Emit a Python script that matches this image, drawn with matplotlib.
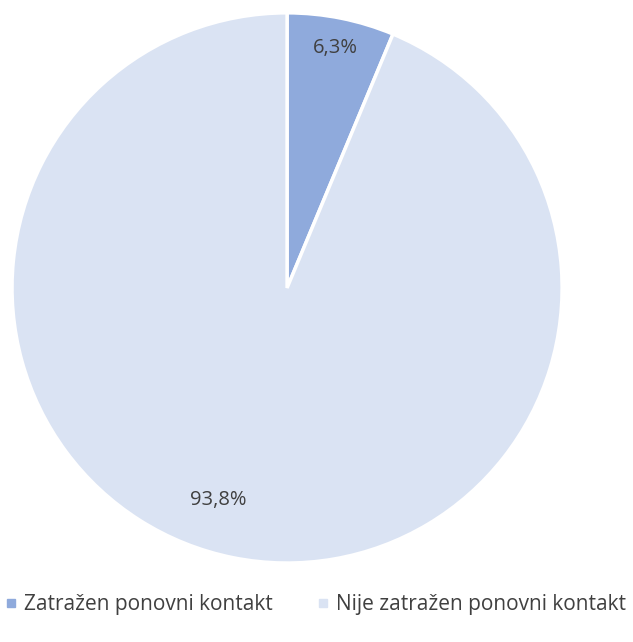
import numpy as np
import matplotlib.pyplot as plt
import matplotlib

matplotlib.rcParams['font.family'] = ['Open Sans', 'DejaVu Sans']

# 데이터
labels = ['Zatražen ponovni kontakt', 'Nije zatražen ponovni kontakt']
values = [6.3, 93.8]
pct_text = ['6,3%', '93,8%']
colors = ['#8FAADC', '#DAE3F3']

fig = plt.figure(figsize=(6.33, 6.42), dpi=100)
ax = fig.add_axes([0.019, 0.123, 0.869, 0.857])

wedges, _ = ax.pie(values, colors=colors, startangle=90, counterclock=False,
                   wedgeprops=dict(edgecolor='white', linewidth=2.5))
ax.set_xlim(-1, 1)
ax.set_ylim(-1, 1)
ax.set_aspect('auto')

# 퍼센트 라벨
for w, t, r in zip(wedges, pct_text, [0.89, 0.81]):
    ang = np.deg2rad((w.theta1 + w.theta2) / 2)
    if t == '93,8%':
        ang = np.deg2rad(-108)
    ax.text(r * np.cos(ang), r * np.sin(ang), t, ha='center', va='center',
            fontsize=14.5, color='#404040')

# 범례 (마커는 작은 정사각형)
handles = [plt.Line2D([], [], marker='s', linestyle='none', markersize=6,
                      markerfacecolor=c, markeredgecolor=c) for c in colors]
fig.legend(handles, labels, loc='center', bbox_to_anchor=(0.5, 0.058), ncol=2,
           frameon=False, fontsize=15, handlelength=0.4,
           handletextpad=0.45, columnspacing=2.2, labelcolor='#404040',
           borderaxespad=0, borderpad=0)

plt.savefig('out.png', dpi=100)
